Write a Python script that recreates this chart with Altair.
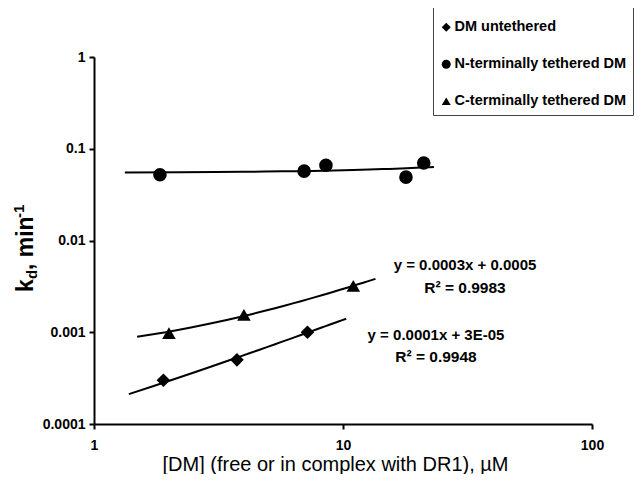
import altair as alt
import pandas as pd

# ---- data ----
series_names = ["DM untethered", "N-terminally tethered DM", "C-terminally tethered DM"]
series_shapes = ["diamond", "circle", "triangle-up"]

dm_x = [1.9, 3.75, 7.2]
dm_y = [0.0003, 0.0005, 0.001]

n_x = [1.84, 6.98, 8.54, 17.9, 21.1]
n_y = [0.052, 0.057, 0.066, 0.049, 0.070]

c_x = [2.0, 4.0, 11.0]
c_y = [0.00098, 0.00155, 0.0032]

# x-range over which each linear trendline is drawn
fit_ranges = [[1.38, 10.3], [1.33, 23.2], [1.49, 13.5]]

x_ticks = [1, 10, 100]
y_ticks = [0.0001, 0.001, 0.01, 0.1, 1]

eq_text = ["y = 0.0003x + 0.0005", "R\u00b2 = 0.9983", "y = 0.0001x + 3E-05", "R\u00b2 = 0.9948"]
x_title = "[DM] (free or in complex with DR1), \u00b5M"
y_title_parts = ["k", "d", ", min", "-1"]

rows = []
for name, xs, ys in [(series_names[0], dm_x, dm_y), (series_names[1], n_x, n_y), (series_names[2], c_x, c_y)]:
    for a, b in zip(xs, ys):
        rows.append({"series": name, "x": a, "y": b})
df = pd.DataFrame(rows)

FONT = "Liberation Sans"

x_enc = alt.X(
    "x:Q",
    scale=alt.Scale(type="log", domain=[1, 100], nice=False),
    axis=alt.Axis(values=x_ticks, format="~g", title=x_title, titleFont=FONT,
                  titleFontSize=20, titleFontWeight="normal", titleColor="black",
                  labelPadding=9, labelFlush=False, titleX=241, titleY=46,
                  titleAlign="center", titleBaseline="alphabetic"),
)
y_enc = alt.Y(
    "y:Q",
    scale=alt.Scale(type="log", domain=[0.0001, 1], nice=False),
    axis=alt.Axis(values=y_ticks, format="~g", title=None, labelPadding=4),
)

points = alt.Chart(df).mark_point(filled=True, color="black", size=185, opacity=1).encode(
    x=x_enc,
    y=y_enc,
    shape=alt.Shape(
        "series:N",
        scale=alt.Scale(domain=series_names, range=series_shapes),
        legend=alt.Legend(
            title=" ", titleFontSize=4, titlePadding=3,
            orient="none", legendX=339, legendY=-50, padding=6,
            rowPadding=21, labelFont=FONT, labelFontSize=14.5, labelFontWeight="bold",
            labelColor="black", symbolSize=80, symbolFillColor="black",
            symbolStrokeColor="black", strokeColor="#444444", fillColor="white",
            labelOffset=1, labelLimit=400,
        ),
    ),
)

fits = []
for name, rng in zip(series_names, fit_ranges):
    fits.append(
        alt.Chart(df)
        .transform_filter(alt.datum.series == name)
        .transform_regression("x", "y", method="poly", order=1, extent=rng)
        .mark_line(color="black", strokeWidth=2)
        .encode(x="x:Q", y="y:Q")
    )

one = alt.Data(values=[{"k": 1}])


def txt(s, x, y, size, align="center", baseline="middle", angle=0, weight="bold"):
    return alt.Chart(one).mark_text(
        text=s, font=FONT, fontSize=size, fontWeight=weight, color="black",
        align=align, baseline=baseline, angle=angle,
    ).encode(x=alt.value(x), y=alt.value(y))


annots = [
    txt(eq_text[0], 371, 208, 15),
    txt(eq_text[1], 371, 231, 15.5),
    txt(eq_text[2], 342, 278, 15),
    txt(eq_text[3], 342, 300, 15.5),
]

ytitle = [
    txt(y_title_parts[0], -61, 235, 23, align="left", baseline="alphabetic", angle=270),
    txt(y_title_parts[1], -57, 222, 15, align="left", baseline="alphabetic", angle=270),
    txt(y_title_parts[2], -61, 213, 23, align="left", baseline="alphabetic", angle=270),
    txt(y_title_parts[3], -70, 161, 15, align="left", baseline="alphabetic", angle=270),
]

chart = (
    alt.layer(*fits, points, *annots, *ytitle)
    .properties(
        width=498, height=367,
        autosize=alt.AutoSizeParams(type="none"),
        padding={"left": 86, "top": 49, "right": 42, "bottom": 50},
        background="white",
    )
    .configure_view(stroke=None)
    .configure_axis(
        grid=False, domainColor="black", domainWidth=2, tickColor="black",
        tickWidth=2, tickSize=5, labelFont=FONT, labelFontSize=14,
        labelFontWeight="bold", labelColor="black",
    )
)

chart.save("out.html", embed_options={"renderer": "svg", "actions": False})
